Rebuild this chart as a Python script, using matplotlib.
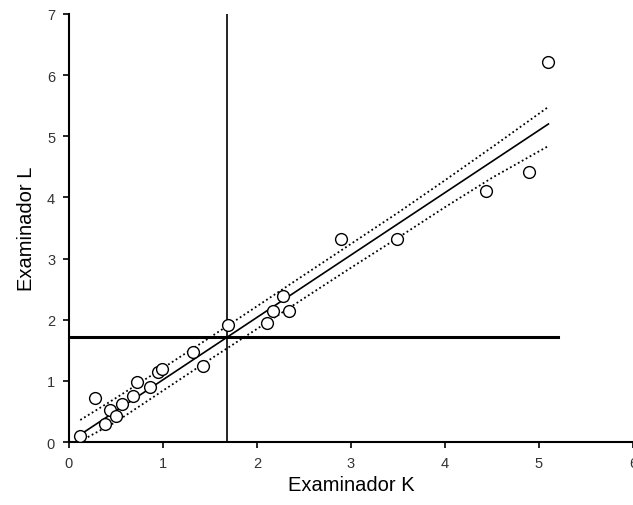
import matplotlib.pyplot as plt

plt.rcParams['font.family'] = ['Liberation Sans', 'DejaVu Sans']

# Scatter data (Examinador K vs Examinador L)
k_vals = [0.12, 0.28, 0.38, 0.44, 0.50, 0.56, 0.68, 0.72, 0.86, 0.95, 0.99,
          1.32, 1.43, 1.69, 2.11, 2.17, 2.28, 2.34, 2.89, 3.49, 4.44, 4.89, 5.10]
l_vals = [0.10, 0.72, 0.29, 0.52, 0.43, 0.62, 0.75, 0.98, 0.90, 1.15, 1.19,
          1.47, 1.24, 1.91, 1.94, 2.14, 2.39, 2.14, 3.32, 3.32, 4.11, 4.42, 6.22]

# Regression line and confidence band
fit_x = [0.10, 5.10]
fit_y = [0.10, 5.20]
band_x = [0.12, 0.5, 1.0, 1.5, 2.0, 2.5, 3.0, 3.5, 4.0, 4.5, 5.1]
band_upper = [0.36, 0.72, 1.21, 1.71, 2.22, 2.73, 3.24, 3.75, 4.28, 4.82, 5.48]
low_x = [0.20, 0.5, 1.0, 1.5, 2.0, 2.5, 3.0, 3.5, 4.0, 4.5, 5.1]
band_lower = [0.08, 0.33, 0.84, 1.35, 1.85, 2.35, 2.85, 3.34, 3.84, 4.32, 4.84]

# Reference lines
cut_k = 1.68
cut_l = 1.72
cut_l_end = 5.2

fig = plt.figure(figsize=(6.33, 5.06), dpi=100)
ax = fig.add_axes([0.109, 0.1245, 0.891, 0.846])

ax.plot([cut_k, cut_k], [0, 7], color='black', lw=1.2)
ax.plot([0, cut_l_end], [cut_l, cut_l], color='black', lw=2.2)

ax.plot(fit_x, fit_y, color='black', lw=1.2)
ax.plot(band_x, band_upper, color='black', lw=1.3, linestyle=(0, (1, 1.5)))
ax.plot(low_x, band_lower, color='black', lw=1.3, linestyle=(0, (1, 1.5)))

ax.scatter(k_vals, l_vals, s=72, facecolors='white', edgecolors='black',
           linewidths=1.0, zorder=3)

ax.set_xlim(0, 6)
ax.set_ylim(0, 7)
ax.set_xticks(range(0, 7))
ax.set_yticks(range(0, 8))
for side in ['top', 'right']:
    ax.spines[side].set_visible(False)
for side in ['left', 'bottom']:
    ax.spines[side].set_linewidth(1.5)
ax.tick_params(direction='out', length=4, width=1.2, labelsize=10.5,
               labelcolor='#333333', pad=6)

ax.set_xlabel('Examinador K', fontsize=14.5, labelpad=4)
ax.set_ylabel('Examinador L', fontsize=14.5, labelpad=8)

plt.savefig('out.png', dpi=100)
